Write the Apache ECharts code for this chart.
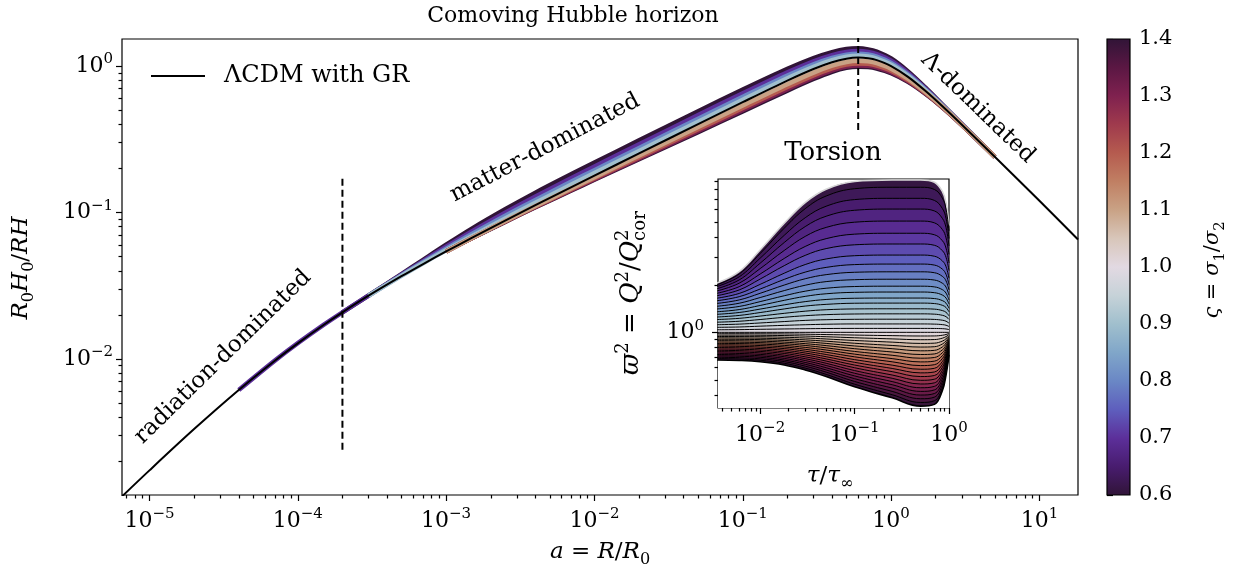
<!DOCTYPE html>
<html>
<head>
<meta charset="utf-8">
<title>Comoving Hubble horizon</title>
<script src="https://cdn.jsdelivr.net/npm/echarts@6/dist/echarts.min.js"></script>
<style>
html, body { margin: 0; padding: 0; background: #fff; }
#chart { width: 1234px; height: 575px; }
</style>
</head>
<body>
<div id="chart"></div>
<script>
// ---------------- data ----------------
// scale factor a = R/R0 at which the horizon curves are sampled
const scaleFactor = [6.5e-6, 1e-5, 2e-5, 4e-5, 7e-5, 1e-4, 1.5e-4, 2e-4, 3e-4, 5e-4, 7e-4, 1e-3,
  1.5e-3, 2.5e-3, 4e-3, 7e-3, 1e-2, 2e-2, 5e-2, 0.1, 0.2, 0.3, 0.4, 0.5, 0.6, 0.7, 0.8, 1.0,
  1.3, 1.7, 2.2, 3, 5, 10, 18.2];
// R0 H0 / (R H) for Lambda-CDM with GR
const horizonGR = [1.149e-3, 1.738e-3, 3.324e-3, 6.143e-3, 9.735e-3, 0.0128, 0.01715, 0.02085,
  0.02706, 0.03676, 0.04454, 0.05423, 0.06742, 0.0881, 0.1122, 0.1492, 0.1787, 0.2534, 0.4012,
  0.567, 0.7962, 0.9555, 1.0627, 1.1233, 1.1432, 1.1316, 1.0982, 1.0, 0.8438, 0.6778, 0.536,
  0.398, 0.2403, 0.1204, 0.0655];

// torsion runs: horizon divided by the GR horizon, on scaleFactor[3] ... scaleFactor[32]
const devStart = 3;
const ratioSigma060 = [1, 1, 1, 1, 1, 1.003, 1.0336, 1.0682, 1.1113, 1.1562, 1.1950, 1.2188,
  1.2270, 1.2270, 1.2270, 1.2270, 1.2188, 1.2028, 1.1871, 1.1715, 1.1639, 1.1562, 1.1486, 1.1411,
  1.1261, 1.0896, 1.0542, 1.0267, 1.0107, 1];
const ratioSigma070 = [1, 1.002, 1.003, 1.002, 1, 1.0025, 1.0234, 1.0473, 1.0767, 1.1071, 1.1329,
  1.1486, 1.1539, 1.1539, 1.1539, 1.1539, 1.1486, 1.1381, 1.1277, 1.1172, 1.1122, 1.1071, 1.1019,
  1.0968, 1.0868, 1.0619, 1.0377, 1.0187, 1.0074, 1];
const ratioSigma080 = [1, 1, 1, 1, 1, 1, 1.0139, 1.0281, 1.0454, 1.0629, 1.0777, 1.0868, 1.0898,
  1.0898, 1.0898, 1.0898, 1.0868, 1.0807, 1.0747, 1.0688, 1.0658, 1.0629, 1.0599, 1.0570, 1.0512,
  1.0367, 1.0225, 1.0112, 1.0045, 1];
const ratioSigma090 = [1, 1, 1, 1, 1, 1, 1.0063, 1.0126, 1.0203, 1.0280, 1.0344, 1.0383, 1.0397,
  1.0397, 1.0397, 1.0397, 1.0383, 1.0357, 1.0332, 1.0306, 1.0293, 1.0280, 1.0267, 1.0254, 1.0228,
  1.0164, 1.0101, 1.0050, 1.0020, 1];
const ratioSigma110 = [1, 1, 1, 1, 1, 1, 1, 1, 1, 0.9976, 0.9929, 0.9882, 0.9812, 0.9765, 0.9673,
  0.9559, 0.9491, 0.9446, 0.9446, 0.9468, 0.9491, 0.9491, 0.9513, 0.9536, 0.9604, 0.9719, 0.9835,
  0.9929, 0.9976, 1];
const ratioSigma120 = [1, 1, 1, 1, 1, 1, 1, 1, 1, 0.9958, 0.9874, 0.9791, 0.9668, 0.9587, 0.9426,
  0.9230, 0.9112, 0.9036, 0.9036, 0.9073, 0.9112, 0.9112, 0.9150, 0.9190, 0.9307, 0.9505, 0.9709,
  0.9874, 0.9958, 1];
const ratioSigma130 = [1, 1, 1, 1, 1, 1, 1, 1, 1, 0.9944, 0.9833, 0.9724, 0.9561, 0.9454, 0.9244,
  0.8989, 0.8838, 0.8740, 0.8740, 0.8789, 0.8838, 0.8838, 0.8888, 0.8938, 0.9091, 0.9349, 0.9615,
  0.9833, 0.9944, 1];
const ratioSigma140 = [1, 1, 1, 1, 1, 1, 1, 1, 1, 0.9934, 0.9804, 0.9676, 0.9486, 0.9362, 0.9117,
  0.8820, 0.8649, 0.8536, 0.8536, 0.8592, 0.8649, 0.8649, 0.8707, 0.8764, 0.8939, 0.9239, 0.9549,
  0.9804, 0.9934, 1];

// inset: torsion amplitude varpi^2 = Q^2/Q^2_cor against tau/tau_inf, one row per sigma_1/sigma_2
const tauGrid = [0.0035, 0.006, 0.01, 0.018, 0.03, 0.05, 0.1, 0.25, 0.5, 0.7, 0.85, 0.93, 1.0];
const insetSigma = [0.60, 0.62, 0.64, 0.66, 0.68, 0.70, 0.72, 0.74, 0.76, 0.78, 0.80, 0.82, 0.84,
  0.86, 0.88, 0.90, 0.92, 0.94, 0.96, 0.98, 1.00, 1.02, 1.04, 1.06, 1.08, 1.10, 1.12, 1.14, 1.16,
  1.18, 1.20, 1.22, 1.24, 1.26, 1.28, 1.30, 1.32, 1.34, 1.36, 1.38, 1.40];
const insetCurves = [
  [2.050, 2.420, 3.320, 4.900, 6.620, 8.040, 9.000, 9.200, 9.200, 8.910, 7.790, 6.590, 4.730],
  [2.000, 2.339, 3.151, 4.560, 6.058, 7.287, 8.105, 8.279, 8.279, 8.021, 7.069, 6.030, 4.391],
  [1.950, 2.244, 2.944, 4.111, 5.309, 6.281, 6.918, 7.047, 7.047, 6.839, 6.081, 5.260, 3.926],
  [1.888, 2.145, 2.737, 3.701, 4.668, 5.428, 5.921, 6.026, 6.026, 5.866, 5.267, 4.603, 3.516],
  [1.828, 2.046, 2.530, 3.296, 4.046, 4.613, 4.977, 5.058, 5.058, 4.932, 4.477, 3.963, 3.112],
  [1.766, 1.945, 2.337, 2.934, 3.494, 3.915, 4.181, 4.236, 4.236, 4.146, 3.802, 3.412, 2.748],
  [1.706, 1.854, 2.173, 2.642, 3.069, 3.388, 3.580, 3.622, 3.622, 3.556, 3.289, 2.985, 2.460],
  [1.644, 1.762, 2.011, 2.367, 2.685, 2.913, 3.054, 3.083, 3.083, 3.032, 2.834, 2.604, 2.199],
  [1.585, 1.681, 1.879, 2.163, 2.404, 2.576, 2.683, 2.704, 2.704, 2.665, 2.512, 2.328, 2.004],
  [1.524, 1.603, 1.766, 1.991, 2.183, 2.317, 2.399, 2.415, 2.415, 2.384, 2.262, 2.117, 1.854],
  [1.462, 1.528, 1.660, 1.837, 1.986, 2.094, 2.153, 2.168, 2.168, 2.143, 2.046, 1.932, 1.718],
  [1.406, 1.458, 1.564, 1.704, 1.821, 1.901, 1.949, 1.959, 1.959, 1.939, 1.863, 1.771, 1.601],
  [1.349, 1.393, 1.479, 1.594, 1.689, 1.754, 1.791, 1.799, 1.799, 1.782, 1.722, 1.648, 1.508],
  [1.300, 1.335, 1.403, 1.492, 1.564, 1.614, 1.643, 1.648, 1.648, 1.636, 1.588, 1.529, 1.419],
  [1.250, 1.279, 1.334, 1.406, 1.466, 1.503, 1.528, 1.531, 1.531, 1.521, 1.483, 1.436, 1.348],
  [1.205, 1.226, 1.267, 1.319, 1.361, 1.390, 1.406, 1.409, 1.409, 1.402, 1.373, 1.339, 1.271],
  [1.159, 1.175, 1.205, 1.245, 1.274, 1.294, 1.306, 1.309, 1.309, 1.303, 1.282, 1.256, 1.208],
  [1.117, 1.127, 1.146, 1.170, 1.190, 1.202, 1.209, 1.211, 1.211, 1.207, 1.193, 1.176, 1.143],
  [1.076, 1.081, 1.094, 1.107, 1.117, 1.125, 1.130, 1.130, 1.130, 1.127, 1.119, 1.109, 1.089],
  [1.038, 1.040, 1.045, 1.050, 1.054, 1.057, 1.059, 1.059, 1.059, 1.058, 1.055, 1.050, 1.041],
  [1.000, 1.000, 1.000, 1.000, 1.000, 1.000, 1.000, 1.000, 1.000, 1.000, 1.000, 1.000, 1.000],
  [0.980, 0.980, 0.979, 0.977, 0.973, 0.968, 0.961, 0.953, 0.948, 0.949, 0.958, 0.969, 0.984],
  [0.960, 0.960, 0.958, 0.954, 0.947, 0.938, 0.924, 0.909, 0.898, 0.900, 0.918, 0.940, 0.968],
  [0.941, 0.940, 0.938, 0.931, 0.921, 0.908, 0.888, 0.867, 0.851, 0.854, 0.880, 0.911, 0.952],
  [0.923, 0.921, 0.918, 0.909, 0.896, 0.879, 0.853, 0.826, 0.807, 0.811, 0.843, 0.883, 0.936],
  [0.904, 0.903, 0.899, 0.888, 0.872, 0.851, 0.820, 0.788, 0.764, 0.769, 0.808, 0.856, 0.921],
  [0.886, 0.884, 0.880, 0.867, 0.848, 0.824, 0.788, 0.751, 0.724, 0.730, 0.774, 0.830, 0.906],
  [0.869, 0.866, 0.861, 0.847, 0.826, 0.798, 0.757, 0.716, 0.686, 0.693, 0.742, 0.804, 0.891],
  [0.851, 0.849, 0.843, 0.827, 0.803, 0.773, 0.728, 0.682, 0.650, 0.657, 0.711, 0.780, 0.877],
  [0.834, 0.832, 0.825, 0.808, 0.781, 0.748, 0.700, 0.651, 0.616, 0.624, 0.682, 0.756, 0.862],
  [0.818, 0.815, 0.807, 0.789, 0.760, 0.724, 0.672, 0.620, 0.584, 0.592, 0.653, 0.733, 0.848],
  [0.801, 0.798, 0.790, 0.770, 0.740, 0.701, 0.646, 0.591, 0.554, 0.561, 0.626, 0.710, 0.834],
  [0.785, 0.782, 0.773, 0.752, 0.720, 0.679, 0.621, 0.564, 0.525, 0.533, 0.600, 0.689, 0.821],
  [0.770, 0.766, 0.757, 0.735, 0.700, 0.658, 0.597, 0.537, 0.497, 0.505, 0.575, 0.668, 0.807],
  [0.754, 0.751, 0.741, 0.717, 0.681, 0.637, 0.573, 0.512, 0.471, 0.479, 0.551, 0.647, 0.794],
  [0.739, 0.735, 0.725, 0.701, 0.663, 0.617, 0.551, 0.488, 0.446, 0.455, 0.528, 0.627, 0.781],
  [0.724, 0.720, 0.710, 0.684, 0.645, 0.597, 0.530, 0.466, 0.423, 0.432, 0.506, 0.608, 0.768],
  [0.710, 0.706, 0.695, 0.668, 0.628, 0.578, 0.509, 0.444, 0.401, 0.410, 0.485, 0.590, 0.756],
  [0.696, 0.691, 0.680, 0.653, 0.611, 0.560, 0.489, 0.423, 0.380, 0.389, 0.465, 0.571, 0.744],
  [0.682, 0.678, 0.666, 0.637, 0.594, 0.542, 0.470, 0.403, 0.360, 0.369, 0.445, 0.554, 0.731],
  [0.668, 0.664, 0.652, 0.622, 0.578, 0.525, 0.452, 0.385, 0.341, 0.350, 0.427, 0.537, 0.719]
];

// epoch markers (matter-radiation equality, horizon turnover)
const equalityA = 2.0e-4;
const equalitySpan = [2.4e-3, 0.175];
const turnoverA = 0.6;
const turnoverSpan = [0.366, 2.0];

// tick values
const xMajorTicks = [1e-5, 1e-4, 1e-3, 1e-2, 1e-1, 1, 10];
const yMajorTicks = [1e-2, 1e-1, 1];
const insetXTicks = [1e-2, 1e-1, 1];
const insetYTicks = [1];

// ---------------- style ----------------
const FONT = "'DejaVu Serif', serif";
const TICK_SIZE = 22;
const TEXT_SIZE = 23;
const X_MIN = 6.53e-6, X_MAX = 18.2, Y_MIN = 1.18e-3, Y_MAX = 1.53;
const TX_MIN = 3.58e-3, TX_MAX = 1, TY_MIN = 0.332, TY_MAX = 9.34;

// twilight_shifted colour scale over sigma_1/sigma_2 in [0.6, 1.4]
const CMAP = [
  [0.60, '#301437'], [0.65, '#481c6e'], [0.70, '#5c2f9a'], [0.75, '#5e5ebd'],
  [0.80, '#6a87c5'], [0.85, '#80a6c9'], [0.90, '#a0bfcd'], [0.95, '#c6d2d8'],
  [1.00, '#e2d9e2'], [1.05, '#d8c6ba'], [1.10, '#c9a285'], [1.15, '#c07f63'],
  [1.20, '#b55b4f'], [1.25, '#9f3a4d'], [1.30, '#7f214f'], [1.35, '#5a1743'],
  [1.40, '#301437']
];
function hexRgb(h) { return [1, 3, 5].map(i => parseInt(h.slice(i, i + 2), 16)); }
function cmap(s) {
  if (s <= CMAP[0][0]) return CMAP[0][1];
  if (s >= CMAP[CMAP.length - 1][0]) return CMAP[CMAP.length - 1][1];
  for (let i = 0; i < CMAP.length - 1; i++) {
    if (s <= CMAP[i + 1][0]) {
      const t = (s - CMAP[i][0]) / (CMAP[i + 1][0] - CMAP[i][0]);
      const a = hexRgb(CMAP[i][1]), b = hexRgb(CMAP[i + 1][1]);
      return 'rgb(' + a.map((v, j) => Math.round(v + (b[j] - v) * t)).join(',') + ')';
    }
  }
}

function minorTicks(lo, hi) {
  const out = [];
  for (let e = Math.floor(Math.log10(lo)); e <= Math.ceil(Math.log10(hi)); e++) {
    for (let k = 2; k <= 9; k++) {
      const v = k * Math.pow(10, e);
      if (v >= lo && v <= hi) out.push(v);
    }
  }
  return out;
}

function powLabel(v) {
  const e = Math.round(Math.log10(v));
  return '{b|10}{e|' + (e < 0 ? '\u2212' + (-e) : String(e)) + '}';
}
const powRich = {
  b: { fontSize: TICK_SIZE, fontFamily: FONT, color: '#000', lineHeight: 28, verticalAlign: 'middle' },
  e: { fontSize: Math.round(TICK_SIZE * 0.7), fontFamily: FONT, color: '#000', lineHeight: 13, verticalAlign: 'top' }
};
const tickLine = { color: '#000', width: 1.2 };

function logAxis(grid, min, max, pos, major, minor, margin, isMinor) {
  const ax = {
    type: 'log', gridIndex: grid, min: min, max: max, position: pos,
    axisLine: { show: false }, splitLine: { show: false }, minorTick: { show: false },
    axisPointer: { show: false }
  };
  if (isMinor) {
    ax.axisTick = { show: true, length: 3.5, lineStyle: tickLine, customValues: minor };
    ax.axisLabel = { show: false };
  } else {
    ax.axisTick = { show: true, length: 6, lineStyle: tickLine, customValues: major };
    ax.axisLabel = { show: true, customValues: major, formatter: powLabel, rich: powRich, margin: margin };
  }
  return ax;
}

// math-style text: pieces laid out along a baseline, optionally rotated
const measureCtx = document.createElement('canvas').getContext('2d');
function mathLabel(parts, size, cx, cy, rotation) {
  const kids = [];
  let x = 0, lastX = 0, lastW = 0;
  parts.forEach(p => {
    const small = p.sub || p.sup;
    const s = small ? size * 0.7 : size;
    const font = (p.it ? 'italic ' : '') + s.toFixed(1) + 'px ' + FONT;
    measureCtx.font = font;
    const w = measureCtx.measureText(p.t).width;
    let px;
    if (p.stack) { px = lastX; x = lastX + Math.max(lastW, w); }
    else { px = x; x += w; lastX = px; lastW = w; }
    const shift = p.sub ? 0.24 * size : (p.sup ? -0.42 * size : 0);
    kids.push({ px: px, y: 0.3 * size + shift - 0.35 * s, font: font, t: p.t });
  });
  const W = x;
  return {
    type: 'group', x: cx, y: cy, rotation: rotation || 0, silent: true,
    children: kids.map(k => ({
      type: 'text', x: k.px - W / 2, y: k.y,
      style: { text: k.t, font: k.font, fill: '#000', align: 'left', verticalAlign: 'middle',
        textAlign: 'left', textVerticalAlign: 'middle' }
    }))
  };
}
function plainText(str, size, cx, cy, deg) {
  return {
    type: 'text', x: cx, y: cy, rotation: (deg || 0) * Math.PI / 180, silent: true,
    style: { text: str, font: size + 'px ' + FONT, fill: '#000', align: 'center', verticalAlign: 'middle',
      textAlign: 'center', textVerticalAlign: 'middle' }
  };
}

// ---------------- series ----------------
const series = [];

const torsionRuns = [
  [0.6, ratioSigma060], [0.7, ratioSigma070], [0.8, ratioSigma080], [0.9, ratioSigma090],
  [1.4, ratioSigma140], [1.3, ratioSigma130], [1.2, ratioSigma120], [1.1, ratioSigma110]
];
torsionRuns.forEach(([sigma, ratio]) => {
  let first = ratio.findIndex(q => q !== 1);
  let last = ratio.length - 1;
  while (last > 0 && ratio[last] === 1) last--;
  first = Math.max(0, first - 1);
  last = Math.min(ratio.length - 1, last + 1);
  const pts = [];
  for (let i = first; i <= last; i++) {
    pts.push([scaleFactor[i + devStart], horizonGR[i + devStart] * ratio[i]]);
  }
  series.push({
    type: 'line', xAxisIndex: 0, yAxisIndex: 0, data: pts, showSymbol: false, smooth: 0.3,
    lineStyle: { color: cmap(sigma), width: 4.5, cap: 'butt', join: 'round' },
    silent: true, z: 2
  });
});

series.push({
  type: 'line', name: '\u039bCDM with GR', xAxisIndex: 0, yAxisIndex: 0,
  data: scaleFactor.map((a, i) => [a, horizonGR[i]]), showSymbol: false, smooth: 0.3,
  lineStyle: { color: '#000', width: 2 }, itemStyle: { color: '#000' }, silent: true, z: 5
});

[[equalityA, equalitySpan], [turnoverA, turnoverSpan]].forEach(([a, span]) => {
  series.push({
    type: 'line', xAxisIndex: 0, yAxisIndex: 0, data: [[a, span[0]], [a, span[1]]],
    showSymbol: false, lineStyle: { color: '#000', width: 2, type: [7, 4] }, silent: true, z: 6
  });
});

// inset: filled bands between neighbouring curves, then the curves themselves
const INSET_SMOOTH = 0.4;
insetCurves.forEach((row, k) => {
  const fill = k < insetCurves.length - 1 ? cmap((insetSigma[k] + insetSigma[k + 1]) / 2) : '#fff';
  series.push({
    type: 'line', xAxisIndex: 2, yAxisIndex: 2, data: tauGrid.map((t, i) => [t, row[i]]),
    showSymbol: false, smooth: INSET_SMOOTH,
    lineStyle: { width: 0, opacity: 0 }, areaStyle: { color: fill, opacity: 1, origin: 'start' },
    silent: true, z: 3
  });
});
insetCurves.forEach((row, k) => {
  const top = k === 0, bottom = k === insetCurves.length - 1;
  series.push({
    type: 'line', xAxisIndex: 2, yAxisIndex: 2, data: tauGrid.map((t, i) => [t, row[i]]),
    showSymbol: false, smooth: INSET_SMOOTH,
    lineStyle: { color: top ? '#d6d6d6' : '#000', width: top ? 1.6 : (bottom ? 1.6 : 1) },
    silent: true, z: 4
  });
});

// colour bar
const cbarStops = CMAP.map(([s, c]) => ({ offset: (s - 0.6) / 0.8, color: c }));
series.push({
  type: 'custom', xAxisIndex: 4, yAxisIndex: 4, data: [[0, 0.6]], silent: true, z: 2,
  renderItem: function (params, api) {
    const tl = api.coord([0, 1.4]);
    const br = api.coord([1, 0.6]);
    return {
      type: 'rect',
      shape: { x: tl[0], y: tl[1], width: br[0] - tl[0], height: br[1] - tl[1] },
      style: { fill: new echarts.graphic.LinearGradient(0, 1, 0, 0, cbarStops), stroke: '#000', lineWidth: 1.2 }
    };
  }
});

// ---------------- option ----------------
const gridBase = { show: true, borderColor: '#000', borderWidth: 1.2, containLabel: false, outerBoundsMode: 'none' };
const option = {
  animation: false,
  backgroundColor: '#fff',
  grid: [
    Object.assign({ left: 122, top: 39, width: 956, height: 456, backgroundColor: 'transparent' }, gridBase),
    Object.assign({ left: 718, top: 179, width: 231, height: 229, backgroundColor: '#fff', z: 1 }, gridBase),
    Object.assign({ left: 1107, top: 39, width: 23, height: 456, show: false }, { containLabel: false, outerBoundsMode: 'none' })
  ],
  xAxis: [
    logAxis(0, X_MIN, X_MAX, 'bottom', xMajorTicks, null, 12, false),
    logAxis(0, X_MIN, X_MAX, 'bottom', null, minorTicks(X_MIN, X_MAX), 0, true),
    logAxis(1, TX_MIN, TX_MAX, 'bottom', insetXTicks, null, 13, false),
    logAxis(1, TX_MIN, TX_MAX, 'bottom', null, minorTicks(TX_MIN, TX_MAX), 0, true),
    { type: 'value', gridIndex: 2, min: 0, max: 1, show: false }
  ],
  yAxis: [
    logAxis(0, Y_MIN, Y_MAX, 'left', yMajorTicks, null, 9, false),
    logAxis(0, Y_MIN, Y_MAX, 'left', null, minorTicks(Y_MIN, Y_MAX), 0, true),
    logAxis(1, TY_MIN, TY_MAX, 'left', insetYTicks, null, 14, false),
    logAxis(1, TY_MIN, TY_MAX, 'left', null, minorTicks(TY_MIN, TY_MAX), 0, true),
    {
      type: 'value', gridIndex: 2, min: 0.6, max: 1.4, interval: 0.1, position: 'right',
      axisLine: { show: false }, splitLine: { show: false },
      axisTick: { show: true, length: 6, lineStyle: tickLine },
      axisLabel: { show: true, margin: 9, fontFamily: FONT, fontSize: 21, color: '#000',
        formatter: v => v.toFixed(1) }
    }
  ],
  legend: {
    data: [{ name: '\u039bCDM with GR', icon: 'rect' }],
    left: 146, top: 59, itemWidth: 54, itemHeight: 2.2, itemGap: 0,
    textStyle: { fontFamily: FONT, fontSize: 24, color: '#000', padding: [0, 0, 0, 14] },
    selectedMode: false
  },
  series: series,
  graphic: {
    elements: [
      plainText('Comoving Hubble horizon', 22, 573, 16, 0),
      plainText('radiation-dominated', TEXT_SIZE, 223, 357, 44.5),
      plainText('matter-dominated', TEXT_SIZE, 545, 148, 27.5),
      plainText('\u039b-dominated', TEXT_SIZE, 978, 108, -44),
      plainText('Torsion', 26, 833, 153, 0),
      mathLabel([{ t: 'R', it: 1 }, { t: '0', sub: 1 }, { t: 'H', it: 1 }, { t: '0', sub: 1 },
        { t: '/' }, { t: 'RH', it: 1 }], TEXT_SIZE, 22, 268, Math.PI / 2),
      mathLabel([{ t: 'a', it: 1 }, { t: ' = ' }, { t: 'R', it: 1 }, { t: '/' }, { t: 'R', it: 1 },
        { t: '0', sub: 1 }], TEXT_SIZE, 600, 553, 0),
      mathLabel([{ t: '\u03d6', it: 1 }, { t: '2', sup: 1 }, { t: ' = ' }, { t: 'Q', it: 1 },
        { t: '2', sup: 1 }, { t: '/' }, { t: 'Q', it: 1 }, { t: '2', sup: 1 },
        { t: 'cor', sub: 1, stack: 1 }], 26, 633, 293, Math.PI / 2),
      mathLabel([{ t: '\u03c4', it: 1 }, { t: '/' }, { t: '\u03c4', it: 1 }, { t: '\u221e', sub: 1 }],
        TEXT_SIZE, 830, 477, 0),
      mathLabel([{ t: '\u03c2', it: 1 }, { t: ' = ' }, { t: '\u03c3', it: 1 }, { t: '1', sub: 1 },
        { t: '/' }, { t: '\u03c3', it: 1 }, { t: '2', sub: 1 }], 21, 1214, 270, Math.PI / 2)
    ]
  }
};

const chart = echarts.init(document.getElementById('chart'), null, { renderer: 'canvas', width: 1234, height: 575 });
chart.setOption(option);
</script>
</body>
</html>
